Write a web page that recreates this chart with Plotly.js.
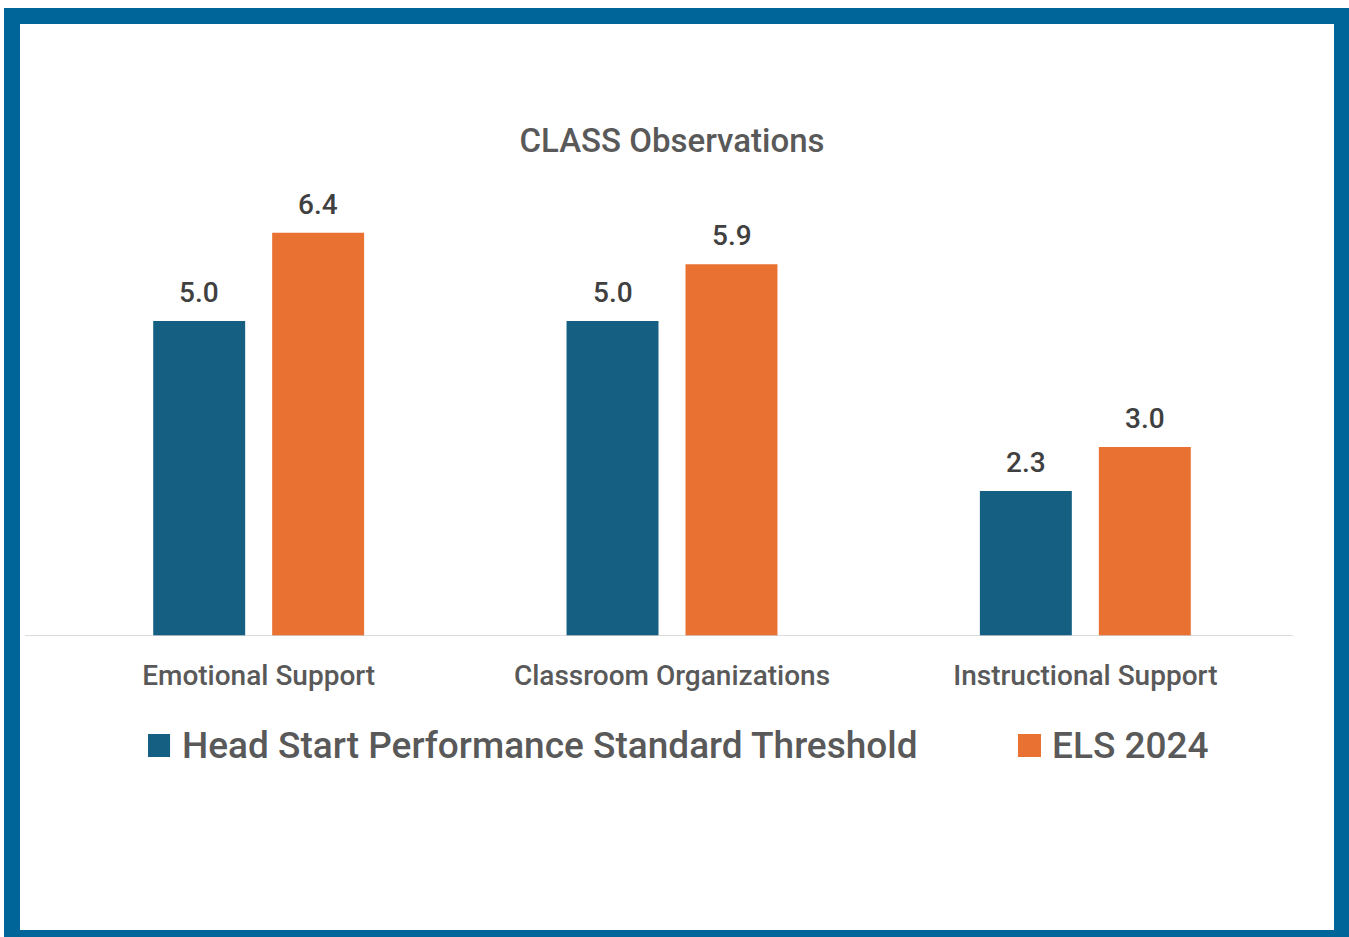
<!DOCTYPE html>
<html>
<head>
<meta charset="utf-8">
<script src="https://cdn.plot.ly/plotly-3.0.1.min.js"></script>
<style>
  html, body { margin: 0; padding: 0; background: #ffffff; }
  #frame { position: absolute; left: 4px; top: 8px; width: 1345px; height: 929px; background: #00669A; }
  #inner { position: absolute; left: 20px; top: 24px; width: 1314px; height: 906px; background: #ffffff; }
  #chart { position: absolute; left: 0; top: 0; width: 1349px; height: 937px; }
</style>
</head>
<body>
<div id="frame"></div>
<div id="inner"></div>
<div id="chart"></div>
<script>
const categories = ["Emotional Support", "Classroom Organizations", "Instructional Support"];
const seriesNames = ["Head Start Performance Standard Threshold", "ELS 2024"];
const thresholdValues = [5.0, 5.0, 2.3];
const elsValues = [6.4, 5.9, 3.0];
const colors = ["#156082", "#E97132"];

const traces = [
  { type: "bar", name: seriesNames[0], x: categories, y: thresholdValues, marker: { color: colors[0] }, showlegend: false, hoverinfo: "x+y" },
  { type: "bar", name: seriesNames[1], x: categories, y: elsValues, marker: { color: colors[1] }, showlegend: false, hoverinfo: "x+y" }
];

const FONT = "Roboto, sans-serif";
const shift = 59.5;
const annotations = [];
[thresholdValues, elsValues].forEach((vals, si) => {
  vals.forEach((v, i) => {
    annotations.push({
      x: categories[i], y: v, xref: "x", yref: "y",
      text: v.toFixed(1), showarrow: false,
      xanchor: "center", yanchor: "bottom",
      xshift: si === 0 ? -shift : shift, yshift: 10,
      font: { family: FONT, size: 28, weight: 500, color: "#404040" }
    });
  });
});
// manual legend texts
annotations.push({ xref: "paper", yref: "paper", x: 0.1035, y: -0.2472, xanchor: "left", yanchor: "middle",
  text: seriesNames[0], showarrow: false, font: { family: FONT, size: 37, weight: 500, color: "#595959" } });
annotations.push({ xref: "paper", yref: "paper", x: 0.8050, y: -0.2472, xanchor: "left", yanchor: "middle",
  text: seriesNames[1], showarrow: false, font: { family: FONT, size: 37, weight: 500, color: "#595959" } });

const shapes = [
  { type: "line", xref: "paper", yref: "y", x0: -0.0218, x1: 1.0008, y0: 0, y1: 0, line: { color: "#D0D0D0", width: 1.5 } },
  { type: "rect", xref: "paper", yref: "paper", x0: 0.0774, x1: 0.0952, y0: -0.2744, y1: -0.2222, fillcolor: colors[0], line: { width: 0 } },
  { type: "rect", xref: "paper", yref: "paper", x0: 0.7790, x1: 0.7976, y0: -0.2744, y1: -0.2222, fillcolor: colors[1], line: { width: 0 } }
];

const layout = {
  width: 1349, height: 937,
  margin: { l: 52, r: 57, t: 195, b: 301, pad: 0 },
  paper_bgcolor: "rgba(0,0,0,0)",
  plot_bgcolor: "rgba(0,0,0,0)",
  title: { text: "CLASS Observations", x: 0.5, xref: "paper", y: 1 - 140 / 937, yref: "container", yanchor: "middle",
    font: { family: FONT, size: 33, weight: 500, color: "#595959" } },
  barmode: "group",
  bargap: 0.4244,
  bargroupgap: 0.227,
  xaxis: { showgrid: false, zeroline: false, showline: false, ticks: "", ticklabelstandoff: 20,
    tickfont: { family: FONT, size: 28, weight: 500, color: "#595959" } },
  yaxis: { range: [0, 7], showgrid: false, zeroline: false, showline: false, showticklabels: false, ticks: "" },
  showlegend: false,
  annotations: annotations,
  shapes: shapes
};

Plotly.newPlot("chart", traces, layout, { displayModeBar: false, staticPlot: true });
</script>
</body>
</html>
